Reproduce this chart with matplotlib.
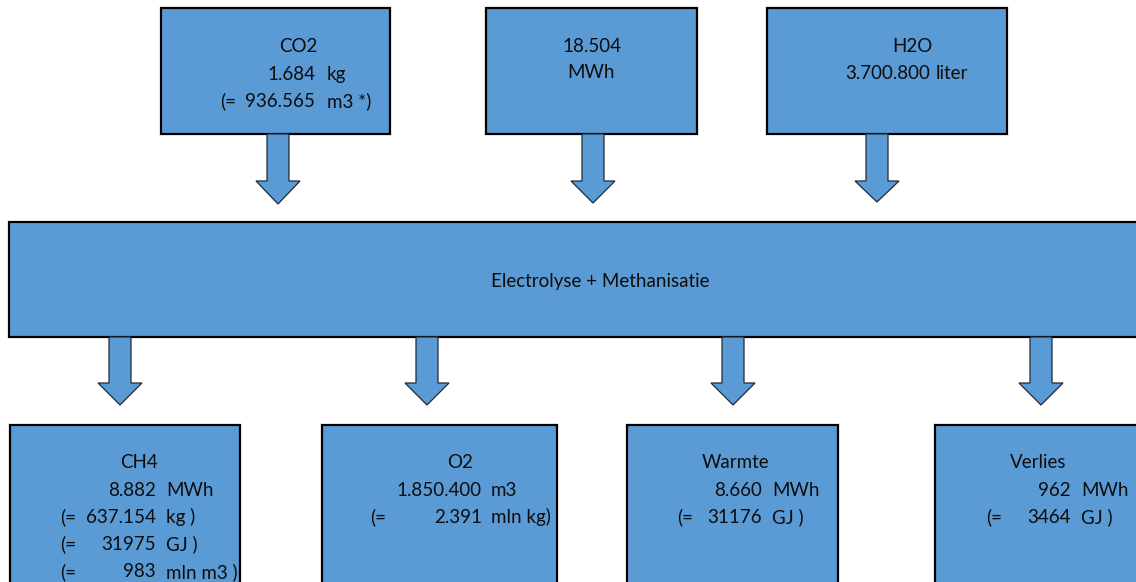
import matplotlib
matplotlib.use("Agg")
import matplotlib.pyplot as plt
from matplotlib.patches import Rectangle, Polygon

plt.rcParams['font.family'] = ['Lato', 'DejaVu Sans']

W, H = 1136, 582
FILL = "#5B9BD5"
TXT = "#0d0d0d"
FS = 13.5

# ---- content ----
co2_title = "CO2"
co2_rows = [("", "1.684", "kg"), ("(=", "936.565", "m3 *)")]
energy_lines = ["18.504", "MWh"]
h2o_title = "H2O"
h2o_rows = [("", "3.700.800", "liter")]
process_label = "Electrolyse + Methanisatie"
ch4_title = "CH4"
ch4_rows = [("", "8.882", "MWh"), ("(=", "637.154", "kg )"),
            ("(=", "31975", "GJ )"), ("(=", "983", "mln m3 )")]
o2_title = "O2"
o2_rows = [("", "1.850.400", "m3"), ("(=", "2.391", "mln kg)")]
warmte_title = "Warmte"
warmte_rows = [("", "8.660", "MWh"), ("(=", "31176", "GJ )")]
verlies_title = "Verlies"
verlies_rows = [("", "962", "MWh"), ("(=", "3464", "GJ )")]

fig = plt.figure(figsize=(W / 100, H / 100), dpi=100)
ax = fig.add_axes([0, 0, 1, 1])
ax.set_xlim(0, W)
ax.set_ylim(H, 0)
ax.axis("off")


def box(x0, y0, x1, y1):
    ax.add_patch(Rectangle((x0, y0), x1 - x0, y1 - y0, facecolor=FILL,
                           edgecolor="black", linewidth=1.6, zorder=2))


def arrow(cx, y0, y_neck, y_tip, sw=11, hw=22):
    pts = [(cx - sw, y0), (cx + sw, y0), (cx + sw, y_neck), (cx + hw, y_neck),
           (cx, y_tip), (cx - hw, y_neck), (cx - sw, y_neck)]
    ax.add_patch(Polygon(pts, closed=True, facecolor=FILL, edgecolor="#1f2a38",
                         linewidth=0.9, zorder=3))


def rows_text(title, title_xc, rows, num_right, unit_left, pre_left, y0, dy=27.2):
    ax.text(title_xc, y0, title, ha="center", va="center", fontsize=FS, color=TXT, zorder=5)
    for i, (pre, num, unit) in enumerate(rows):
        y = y0 + dy * (i + 1)
        if pre:
            ax.text(pre_left, y, pre, ha="left", va="center", fontsize=FS, color=TXT, zorder=5)
        ax.text(num_right, y, num, ha="right", va="center", fontsize=FS, color=TXT, zorder=5)
        ax.text(unit_left, y, unit, ha="left", va="center", fontsize=FS, color=TXT, zorder=5)


# top boxes
box(161, 8, 390, 134)
box(486, 8, 697, 134)
box(767, 8, 1007, 134)
# top arrows
arrow(278, 134, 181, 204)
arrow(593, 134, 181, 203)
arrow(877, 134, 181, 202)
# process box
box(9, 222, 1145, 337)
# bottom arrows
for cx in (120, 427, 733, 1041):
    arrow(cx, 337, 383, 405)
# bottom boxes
box(10, 425, 240, 600)
box(322, 425, 557, 600)
box(627, 425, 838, 600)
box(935, 425, 1145, 600)

# texts
rows_text(co2_title, 298, co2_rows, 315, 327, 220, 47)
ax.text(592, 47, energy_lines[0], ha="center", va="center", fontsize=FS, color=TXT)
ax.text(591, 73, energy_lines[1], ha="center", va="center", fontsize=FS, color=TXT)
rows_text(h2o_title, 912, h2o_rows, 930, 936, 0, 47, dy=26.5)
ax.text(600, 282, process_label, ha="center", va="center", fontsize=FS, color=TXT)
rows_text(ch4_title, 139, ch4_rows, 156, 166, 60, 463)
rows_text(o2_title, 460, o2_rows, 482, 491, 370, 463)
rows_text(warmte_title, 736, warmte_rows, 762, 772, 677, 463)
rows_text(verlies_title, 1038, verlies_rows, 1071, 1081, 986, 463)

fig.savefig("out.png", dpi=100)
